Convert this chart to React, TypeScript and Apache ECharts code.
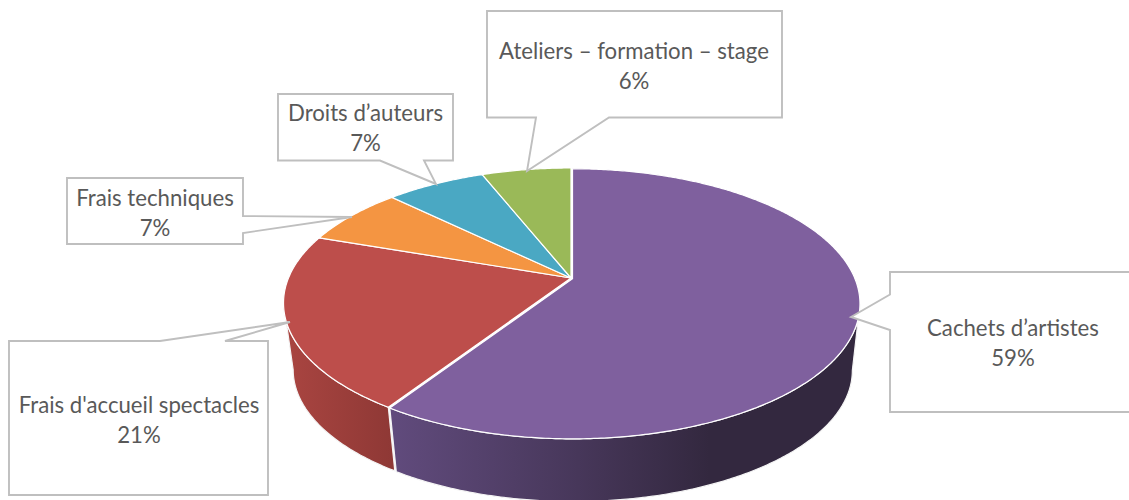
import React, { useEffect, useRef } from "react";
import * as echarts from "echarts";

const categories = ["Cachets d’artistes", "Frais d'accueil spectacles", "Frais techniques", "Droits d’auteurs", "Ateliers – formation – stage"];
const percentages = [59.2, 21.1, 7.0, 6.7, 6.0];
const topColors = ["#7f609e", "#bd4e4b", "#f49542", "#4aa8c3", "#9ab958"];

const total = percentages.reduce((a, b) => a + b, 0);
const cumulative = percentages.reduce<number[]>((acc, v) => [...acc, acc[acc.length - 1] + v], [0]);
const angleOf = (share: number) => (share / total) * Math.PI * 2;

// perspective of the disc
const K = 0.1852;
const topFace = { cx: 571, cy: 278, a: 282.5, b: 130.4 };
const bottomFace = { cx: 572, cy: 345.5, a: 274, b: 126.5 };
const project = (f: typeof topFace, t: number, dx = 0, dy = 0) => {
  const u = Math.sin(t);
  const v = Math.cos(t);
  const d = 1 + K * v;
  return [f.cx + (f.a * u) / d + dx, f.cy - (f.b * v) / d + dy];
};
const arcPoints = (f: typeof topFace, from: number, to: number, dx = 0, dy = 0) => {
  const steps = Math.max(2, Math.ceil(Math.abs(to - from) / 0.01));
  const pts: number[][] = [];
  for (let i = 0; i <= steps; i++) pts.push(project(f, from + ((to - from) * i) / steps, dx, dy));
  return pts;
};
const silhouette = Math.acos(-K);
const wallFrom = silhouette;
const wallTo = Math.PI * 2 - silhouette;

const wallFills: Record<number, any> = {
  0: new echarts.graphic.LinearGradient(0, 0, 1, 0, [
    { offset: 0, color: "#614b7d" },
    { offset: 0.4, color: "#47375a" },
    { offset: 0.68, color: "#33283f" },
    { offset: 1, color: "#33283f" },
  ]),
  1: new echarts.graphic.LinearGradient(0, 0, 1, 0, [
    { offset: 0, color: "#aa4541" },
    { offset: 1, color: "#8e3835" },
  ]),
};

const renderItem = (params: any) => {
  const i = params.dataIndex;
  const from = angleOf(cumulative[i]);
  const to = angleOf(cumulative[i + 1]);
  const dx = i === 0 ? 1.5 : 0;
  const dy = i === 0 ? 0.8 : 0;
  const children: any[] = [];
  const wa = Math.max(from, wallFrom);
  const wb = Math.min(to, wallTo);
  if (wb > wa) {
    const pts = [
      ...arcPoints(topFace, wa, wb, dx, dy),
      ...arcPoints(bottomFace, wb, wa, dx, dy),
    ];
    children.push({
      type: "polygon",
      shape: { points: pts },
      style: { fill: wallFills[i] ?? topColors[i], stroke: "#f4f4f4", lineWidth: 1.2 },
    });
  }
  children.push({
    type: "polygon",
    shape: { points: [[topFace.cx + dx, topFace.cy + dy], ...arcPoints(topFace, from, to, dx, dy)] },
    style: { fill: topColors[i], stroke: "#ffffff", lineWidth: 1.2 },
  });
  return { type: "group", children };
};

const callout = (points: number[][]) => ({
  type: "polygon",
  z: 10,
  shape: { points },
  style: { fill: "#ffffff", stroke: "#bfbfbf", lineWidth: 1.9 },
});
const calloutText = (i: number, x: number, y: number) => ({
  type: "text",
  z: 11,
  x,
  y,
  style: {
    text: `${categories[i]}\n${Math.round(percentages[i])}%`,
    font: '22.2px Lato, "Open Sans", sans-serif',
    fill: "#595959",
    align: "center",
    verticalAlign: "middle",
    lineHeight: 30,
  },
});

export default function App() {
  const ref = useRef<HTMLDivElement>(null);
  useEffect(() => {
    document.body.style.margin = "0";
    const chart = echarts.init(ref.current!, undefined, { renderer: "svg" });
    chart.setOption({
      animation: false,
      backgroundColor: "#ffffff",
      series: [
        {
          type: "custom",
          coordinateSystem: "none",
          clip: false,
          silent: true,
          data: percentages.map((v, i) => ({ name: categories[i], value: [v] })),
          renderItem,
        },
      ],
      graphic: [
        callout([[890, 272], [1140, 272], [1140, 412], [890, 412], [890, 330], [851, 317], [890, 294.5]]),
        calloutText(0, 1013, 342),
        callout([[9, 341], [160, 341], [290, 322], [225, 341], [268, 341], [268, 495], [9, 495]]),
        calloutText(1, 139, 419),
        callout([[67, 178], [243, 178], [243, 216], [352, 217], [243, 233], [243, 244], [67, 244]]),
        calloutText(2, 155, 212),
        callout([[278, 94], [453, 94], [453, 160.5], [424, 160.5], [436, 184], [380, 160.5], [278, 160.5]]),
        calloutText(3, 365.5, 127),
        callout([[487, 11], [782, 11], [782, 117.5], [609, 117.5], [527, 171], [536, 117.5], [487, 117.5]]),
        calloutText(4, 634, 65),
      ],
    });
    return () => chart.dispose();
  }, []);
  return <div ref={ref} style={{ position: "absolute", left: 0, top: 0, width: 1129, height: 500 }} />;
}
